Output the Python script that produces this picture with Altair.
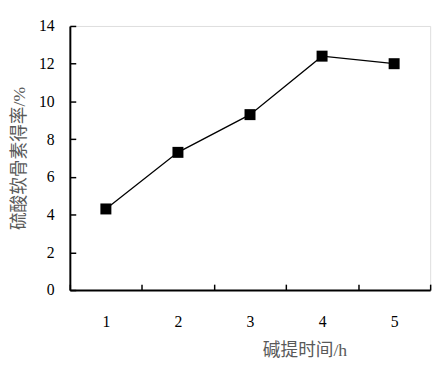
import altair as alt
import pandas as pd

hours = ["1", "2", "3", "4", "5"]
yield_pct = [4.3, 7.3, 9.3, 12.4, 12.0]
y_ticks = [0, 2, 4, 6, 8, 10, 12, 14]

df = pd.DataFrame({"h": hours, "y": yield_pct})

num_font = "Liberation Serif"
title_font = "Liberation Serif, Noto Sans CJK SC"
title_color = "#595959"

x_enc = alt.X(
    "h:O",
    sort=hours,
    scale=alt.Scale(type="band", paddingInner=0, paddingOuter=0),
    axis=alt.Axis(
        title="碱提时间/h",
        labelAngle=0,
        tickBand="extent",
        tickSize=alt.ExprRef(expr="-6"),
        tickWidth=1.5,
        tickColor="black",
        domainColor="black",
        domainWidth=2,
        labelFont=num_font,
        labelFontSize=16,
        labelColor="black",
        labelPadding=30,
        titleFont=title_font,
        titleFontSize=18,
        titleFontWeight="normal",
        titleColor=title_color,
        titleX=239,
        titleY=62,
        titleBaseline="middle",
    ),
)

y_enc = alt.Y(
    "y:Q",
    scale=alt.Scale(domain=[0, 14], nice=False),
    axis=alt.Axis(
        title="硫酸软骨素得率/%",
        values=y_ticks,
        tickSize=alt.ExprRef(expr="-6"),
        tickWidth=1.5,
        tickColor="black",
        domainColor="black",
        domainWidth=2,
        grid=False,
        labelFont=num_font,
        labelFontSize=16,
        labelColor="black",
        labelPadding=22,
        titleFont=title_font,
        titleFontSize=18,
        titleFontWeight="normal",
        titleColor=title_color,
        titleX=-51,
        titleY=134.5,
        titleBaseline="middle",
    ),
)

line = alt.Chart(df).mark_line(color="black", strokeWidth=1.3).encode(x=x_enc, y=y_enc)
pts = alt.Chart(df).mark_point(shape="square", size=125, filled=True, color="black", opacity=1).encode(x=x_enc, y=y_enc)

chart = (
    alt.layer(line, pts)
    .properties(
        width=367,
        height=269,
        autosize=alt.AutoSizeParams(type="none"),
        padding={"left": 63, "top": 15, "right": 9, "bottom": 72},
    )
    .configure_view(stroke=None)
    .configure(background="white")
)

chart.save("out.html", embed_options={"renderer": "svg", "actions": False})
